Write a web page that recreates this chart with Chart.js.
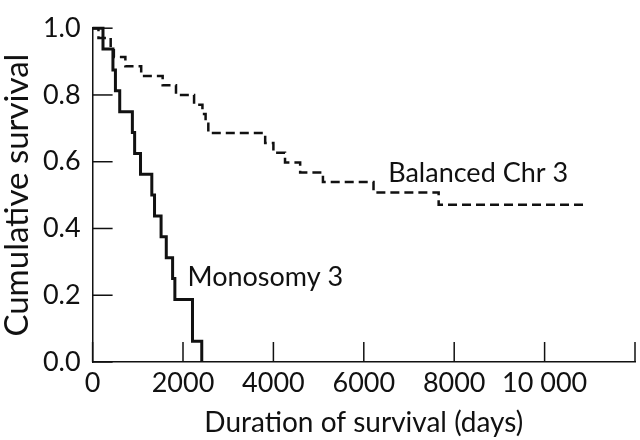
<!DOCTYPE html>
<html>
<head>
<meta charset="utf-8">
<script src="https://cdn.jsdelivr.net/npm/chart.js@4.4.1/dist/chart.umd.min.js"></script>
<style>
  html, body { margin: 0; padding: 0; background: #fff; }
  #wrap { width: 640px; height: 440px; }
</style>
</head>
<body>
<div id="wrap"><canvas id="mycanvas" width="640" height="440"></canvas></div>
<script>
// Kaplan-Meier steps (days, cumulative survival after the drop)
var monoDays = [0, 230, 450, 505, 600, 880, 930, 1060, 1310, 1370, 1515, 1630, 1770, 1820, 2210, 2415];
var monoSurv = [1, 0.9375, 0.875, 0.8125, 0.75, 0.6875, 0.625, 0.5625, 0.5, 0.4375, 0.375, 0.3125, 0.25, 0.1875, 0.0625, 0];

var balDays = [0, 130, 400, 470, 725, 1075, 1550, 1845, 2245, 2430, 2500, 2560, 3818, 4000, 4257, 4592, 5096, 6215, 7656, 10950];
var balSurv = [1, 0.971, 0.943, 0.914, 0.886, 0.857, 0.829, 0.800, 0.771, 0.743, 0.714, 0.686, 0.656, 0.627, 0.598, 0.568, 0.539, 0.508, 0.471, 0.471];

var xTicks = [0, 2000, 4000, 6000, 8000, 10000, 12000];
var yTicks = [0, 0.2, 0.4, 0.6, 0.8, 1.0];

// curve labels: text, x (days), y (survival) of the baseline start
var curveLabels = ["Balanced Chr 3", "Monosomy 3"];
var labelDays = [6540, 2100];
var labelSurv = [0.54, 0.228];

var FONT = "Lato, 'Open Sans', sans-serif";

function toPoints(xs, ys){
	var pts = [];
	for(var i in xs){
		pts.push({x: xs[i], y: ys[i]});
	}
	return pts;
}

// tick marks point into the plot, as in the figure
var innerTicks = {
	id: 'innerTicks',
	afterDraw: function(chart){
		var ctx = chart.ctx;
		var xs = chart.scales.x, ys = chart.scales.y;
		ctx.save();
		ctx.strokeStyle = '#111';
		ctx.lineWidth = 1.5;
		xTicks.forEach(function(v){
			var px = xs.getPixelForValue(v);
			ctx.beginPath();
			ctx.moveTo(px, ys.bottom);
			ctx.lineTo(px, ys.bottom - 20);
			ctx.stroke();
		});
		yTicks.forEach(function(v){
			var py = ys.getPixelForValue(v);
			ctx.beginPath();
			ctx.moveTo(xs.left, py);
			ctx.lineTo(xs.left + 20, py);
			ctx.stroke();
		});
		ctx.fillStyle = '#111';
		ctx.font = '27px ' + FONT;
		ctx.textAlign = 'left';
		ctx.textBaseline = 'alphabetic';
		for(var i in curveLabels){
			ctx.fillText(curveLabels[i], xs.getPixelForValue(labelDays[i]), ys.getPixelForValue(labelSurv[i]));
		}
		ctx.restore();
	}
};

var chartdata = {
	datasets: [
		{
			label: "Balanced Chr 3",
			data: toPoints(balDays, balSurv),
			borderColor: "#111",
			borderWidth: 2.5,
			borderDash: [9, 5],
			stepped: 'before',
			pointRadius: 0,
			fill: false,
			clip: false
		},
		{
			label: "Monosomy 3",
			data: toPoints(monoDays, monoSurv),
			borderColor: "#111",
			borderWidth: 3,
			stepped: 'before',
			pointRadius: 0,
			fill: false,
			clip: false
		}
	]
};

var ctx = document.getElementById('mycanvas');

var kmChart = new Chart(ctx, {
	type: 'line',
	data: chartdata,
	options: {
		responsive: false,
		animation: false,
		devicePixelRatio: 1,
		layout: { padding: { top: 11, right: 0, left: 0, bottom: 0 } },
		plugins: {
			legend: { display: false },
			tooltip: { enabled: false }
		},
		scales: {
			x: {
				type: 'linear',
				min: 0,
				max: 12000,
				afterBuildTicks: function(scale){
					scale.ticks = xTicks.map(function(v){ return {value: v}; });
				},
				afterFit: function(scale){ scale.height = 78; },
				grid: { display: true, drawOnChartArea: false, drawTicks: false },
				border: { display: true, color: '#111', width: 1.5 },
				ticks: {
					color: '#111',
					font: { family: FONT, size: 27 },
					padding: 5,
					maxRotation: 0,
					autoSkip: false,
					callback: function(v){
						if(v == 12000) return '';
						if(v >= 10000) return '10 000';
						return String(v);
					}
				},
				title: {
					display: true,
					text: 'Duration of survival (days)',
					color: '#111',
					font: { family: FONT, size: 28 },
					padding: { top: 0, bottom: 0 }
				}
			},
			y: {
				type: 'linear',
				min: 0,
				max: 1,
				afterBuildTicks: function(scale){
					scale.ticks = yTicks.map(function(v){ return {value: v}; });
				},
				afterFit: function(scale){ scale.width = 92.6; },
				grid: { display: true, drawOnChartArea: false, drawTicks: false },
				border: { display: true, color: '#111', width: 1.5 },
				ticks: {
					color: '#111',
					font: { family: FONT, size: 27 },
					padding: 12,
					callback: function(v){ return Number(v).toFixed(1); }
				},
				title: {
					display: true,
					text: 'Cumulative survival',
					color: '#111',
					font: { family: FONT, size: 33 },
					padding: { top: -2, bottom: 0 }
				}
			}
		}
	},
	plugins: [innerTicks]
});
</script>
</body>
</html>
